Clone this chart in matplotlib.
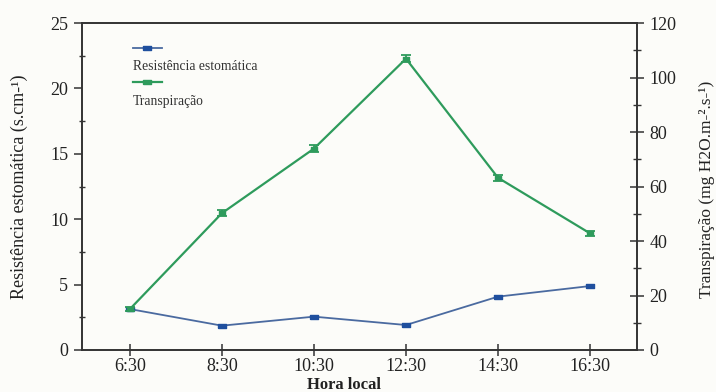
import matplotlib
matplotlib.use("Agg")
import matplotlib.pyplot as plt
from matplotlib.lines import Line2D
from matplotlib.ticker import MultipleLocator
import numpy as np

# Data
hours = ["6:30", "8:30", "10:30", "12:30", "14:30", "16:30"]
resistencia = [3.13, 1.86, 2.55, 1.91, 4.08, 4.89]          # s.cm-1
transpiracao = [15.0, 50.2, 73.9, 106.9, 63.2, 42.8]        # mg H2O.m-2.s-1
transp_err = [0.8, 1.0, 1.2, 1.2, 1.0, 1.0]

plt.rcParams["font.family"] = ["Liberation Serif", "DejaVu Serif"]

bg = "#fcfcf9"
blue_line = "#4a6aa0"
blue_mk = "#1f4f9e"
green = "#2e9b5c"
axis_col = "#333333"
text_col = "#222222"

fig = plt.figure(figsize=(7.16, 3.92), dpi=100, facecolor=bg)
ax = fig.add_axes([82 / 716, 1 - 350 / 392, (637 - 82) / 716, (350 - 23) / 392])
ax.set_facecolor(bg)
ax2 = ax.twinx()

x = np.arange(len(hours))

# flat rectangular marker
rect = [(-1.3, -0.75), (1.3, -0.75), (1.3, 0.75), (-1.3, 0.75), (-1.3, -0.75)]

ax.plot(x, resistencia, color=blue_line, lw=1.3, marker=rect, ms=6,
        mfc=blue_mk, mec=blue_mk, zorder=3)
ax2.errorbar(x, transpiracao, yerr=transp_err, color=green, lw=1.6,
             marker=rect, ms=4.5, mfc=green, mec=green, capsize=3.5,
             elinewidth=1.3, capthick=1.3, zorder=3)

ax.set_xlim(-0.52, 5.51)
ax.set_ylim(0, 25)
ax2.set_ylim(0, 120)

ax.set_xticks(x)
ax.set_xticklabels(hours)
ax.yaxis.set_major_locator(MultipleLocator(5))
ax.yaxis.set_minor_locator(MultipleLocator(2.5))
ax2.yaxis.set_major_locator(MultipleLocator(20))
ax2.yaxis.set_minor_locator(MultipleLocator(10))

for a in (ax, ax2):
    for s in a.spines.values():
        s.set_color(axis_col)
        s.set_linewidth(1.2)

ax.tick_params(axis="x", direction="inout", length=9, width=1.1,
               colors=axis_col, labelsize=13, labelcolor=text_col, pad=1)
ax.tick_params(axis="y", which="major", direction="out", length=6, width=1.1,
               colors=axis_col, labelsize=13, labelcolor=text_col, pad=4)
ax.tick_params(axis="y", which="minor", direction="inout", length=5, width=1.0,
               colors=axis_col)
ax2.tick_params(axis="y", which="major", direction="inout", length=10, width=1.1,
                colors=axis_col, labelsize=13, labelcolor=text_col, pad=4)
ax2.tick_params(axis="y", which="minor", direction="inout", length=6, width=1.0,
                colors=axis_col)

ax.set_xlabel("Hora local", fontsize=12, fontweight="bold", color=text_col)
ax.xaxis.set_label_coords(0.472, -0.082)
ax.xaxis.label.set_va("top")
ax.set_ylabel("Resistência estomática (s.cm-¹)", fontsize=13, color=text_col)
ax.yaxis.set_label_coords(-0.097, 0.5)
ax2.set_ylabel("Transpiração (mg H2O.m-².s-¹)", fontsize=12.5, color=text_col,
               rotation=90)
ax2.yaxis.set_label_coords(1.111, 0.49)

# Legend: line sample above each label
def legend_entry(y_line, y_text, color, mcolor, lw, ms, label):
    ax.add_line(Line2D([0.092, 0.144], [y_line, y_line], transform=ax.transAxes,
                       color=color, lw=lw, zorder=4))
    ax.add_line(Line2D([0.118], [y_line], transform=ax.transAxes, marker=rect,
                       ms=ms, mfc=mcolor, mec=mcolor, lw=0, zorder=5))
    ax.text(0.092, y_text, label, transform=ax.transAxes, fontsize=9.8,
            color="#333333", va="center", ha="left")

legend_entry(1 - (47.7 - 23) / 327, 1 - (66 - 23) / 327, blue_line, blue_mk, 1.3, 6,
             "Resistência estomática")
legend_entry(1 - (82 - 23) / 327, 1 - (101 - 23) / 327, green, green, 1.6, 6,
             "Transpiração")

fig.savefig("out.png", dpi=100, facecolor=bg)
